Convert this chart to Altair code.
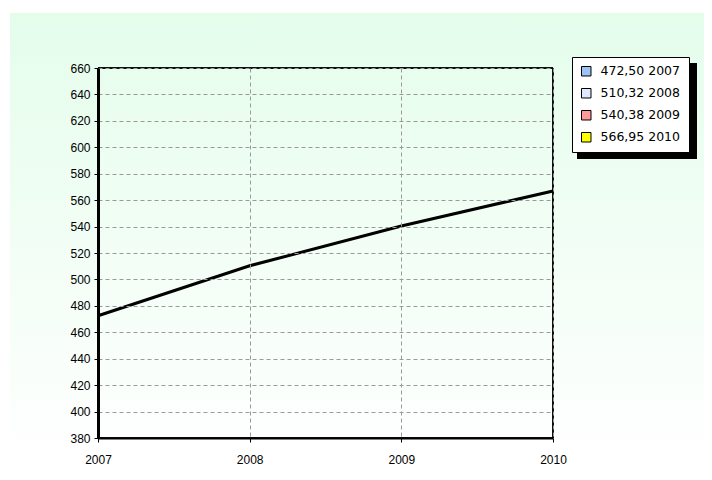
import altair as alt
import pandas as pd

years = [2007, 2008, 2009, 2010]
values = [472.50, 510.32, 540.38, 566.95]
labels = ["472,50 2007", "510,32 2008", "540,38 2009", "566,95 2010"]
legend_colors = ["#9ec3f5", "#dfe8ff", "#ff9a9a", "#ffff00"]
y_ticks = list(range(380, 661, 20))

df = pd.DataFrame({"year": years, "value": values, "label": labels})

W, H = 455, 370
PL, PT, PR, PB = 90, 60, 151, 34

x_scale = alt.Scale(domain=[2007, 2010], nice=False, zero=False)
y_scale = alt.Scale(domain=[380, 660], nice=False, zero=False)

x_axis = alt.Axis(values=years, format="d", title=None, grid=True,
                  gridDash=[4, 3], gridColor="#9a9a9a",
                  domainColor="black", domainWidth=2,
                  tickColor="black", tickSize=4,
                  labelPadding=12, labelFont="Liberation Sans",
                  labelFontSize=12, labelColor="black",
                  labelFlush=False, labelOverlap=False, zindex=1)
y_axis = alt.Axis(values=y_ticks, title=None, grid=True,
                  gridDash=[4, 3], gridColor="#9a9a9a",
                  domainColor="black", domainWidth=3,
                  tickColor="black", tickSize=4,
                  labelPadding=4, labelFont="Liberation Sans",
                  labelFontSize=12, labelColor="black",
                  labelFlush=False, labelOverlap=False, zindex=1)

gradient = alt.Gradient(
    gradient="linear",
    stops=[alt.GradientStop(color="#e4fdeb", offset=0),
           alt.GradientStop(color="#ffffff", offset=1)],
    x1=0, x2=0, y1=0, y2=1,
)

bg = alt.Chart(df).mark_rect(color=gradient).encode(
    x=alt.value(-88), x2=alt.value(W + PR),
    y=alt.value(-55), y2=alt.value(H + 24),
)

line = alt.Chart(df).mark_line(color="black", strokeWidth=3).encode(
    x=alt.X("year:Q", scale=x_scale, axis=x_axis),
    y=alt.Y("value:Q", scale=y_scale, axis=y_axis),
)

pts = alt.Chart(df).mark_point(filled=True, shape="square", opacity=0).encode(
    x=alt.X("year:Q", scale=x_scale, axis=x_axis),
    y=alt.Y("value:Q", scale=y_scale, axis=y_axis),
    color=alt.Color(
        "label:N",
        scale=alt.Scale(domain=labels, range=legend_colors),
        legend=alt.Legend(
            title=None, orient="none", legendX=474, legendY=-11,
            fillColor="white", strokeColor="black", padding=8,
            symbolType="square", symbolSize=90, symbolOpacity=1,
            symbolStrokeColor="black", symbolStrokeWidth=1,
            labelFont="DejaVu Sans", labelFontSize=12.5, labelColor="black",
            rowPadding=8, labelOffset=8,
        ),
    ),
)

shadow = alt.Chart(df).mark_rect(color="black").encode(
    x=alt.value(479), x2=alt.value(599),
    y=alt.value(-5), y2=alt.value(91),
)

border = alt.Chart(df).mark_rect(fill=None, stroke="black", strokeWidth=1).encode(
    x=alt.value(0), x2=alt.value(W),
    y=alt.value(0), y2=alt.value(H),
)

chart = alt.layer(bg, shadow, border, line, pts).properties(
    width=W, height=H,
    autosize=alt.AutoSizeParams(type="none"),
    padding={"left": PL, "top": PT, "right": PR, "bottom": PB},
    background="white",
).configure_view(stroke=None)

chart.save("out.html", embed_options={"renderer": "svg", "actions": False})
